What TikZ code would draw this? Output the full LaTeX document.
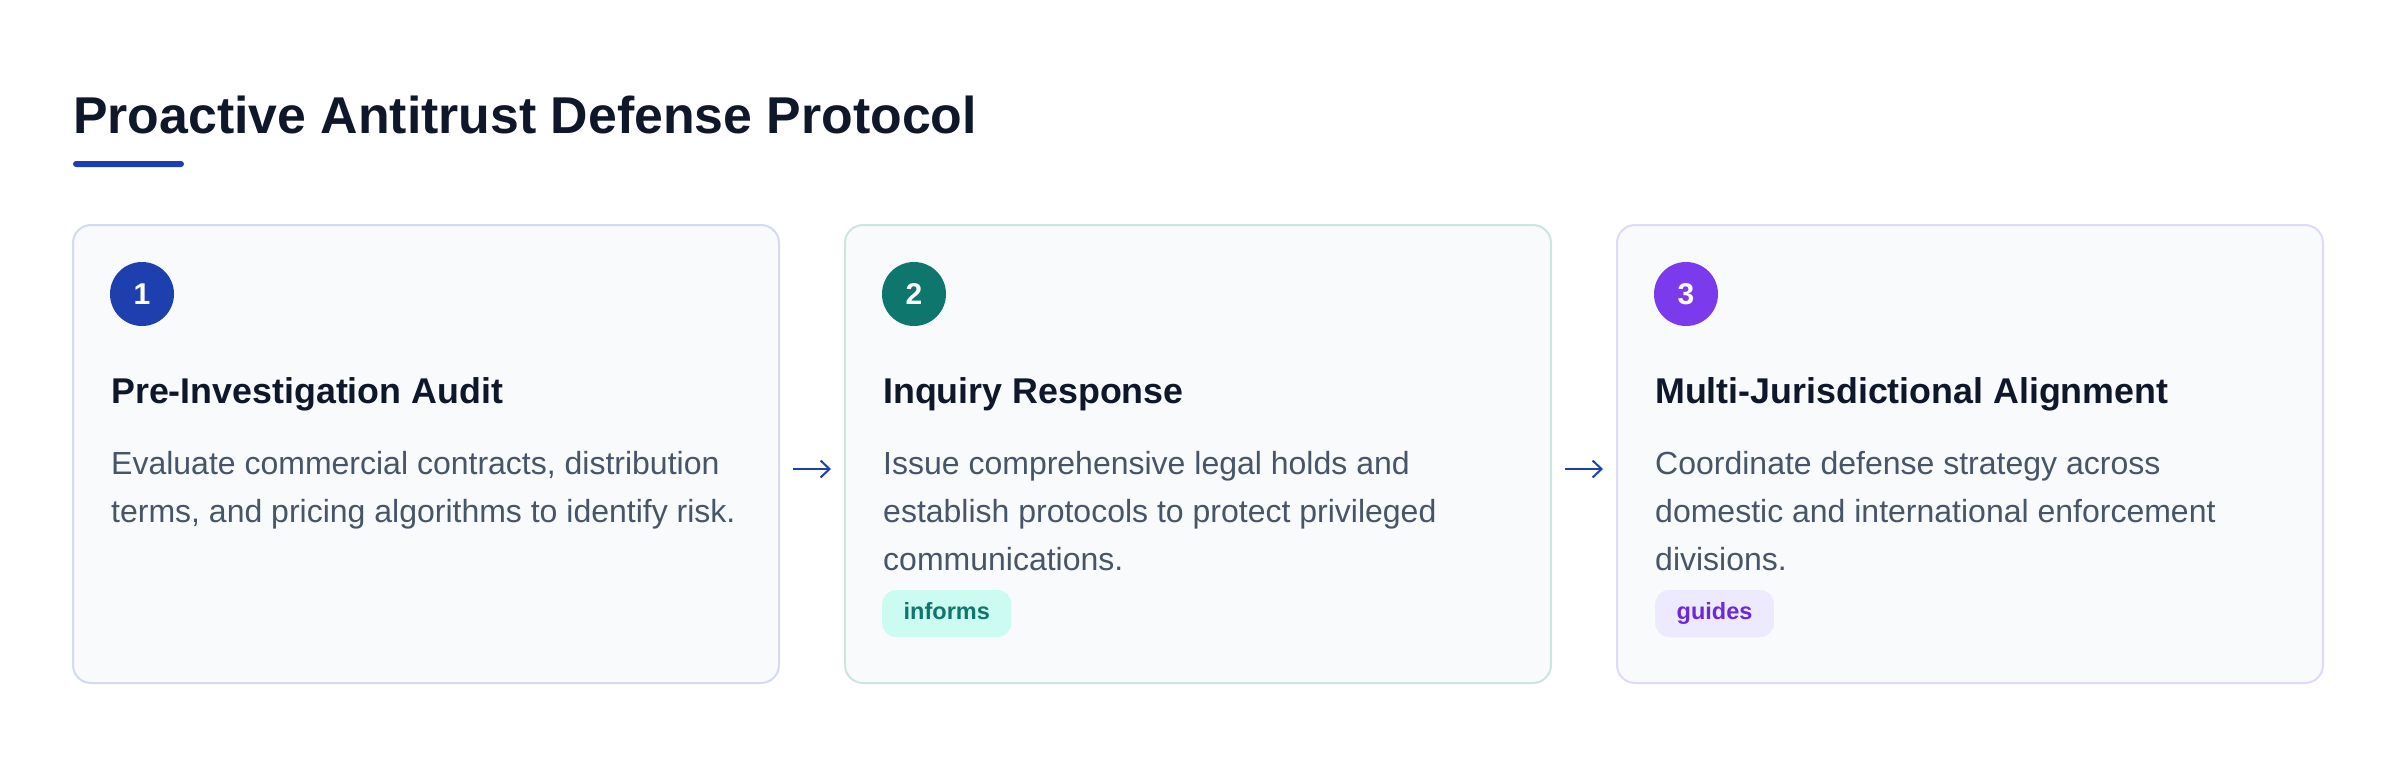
\documentclass[tikz,border=0pt]{standalone}
\usepackage{fontspec}
\setmainfont{Liberation Sans}
\usetikzlibrary{positioning,arrows.meta}

\definecolor{titleink}{HTML}{0F172A}
\definecolor{bodyink}{HTML}{475569}
\definecolor{accentblue}{HTML}{1E40AF}
\definecolor{accentteal}{HTML}{0F766E}
\definecolor{accentviolet}{HTML}{7C3AED}
\definecolor{cardfill}{HTML}{F8FAFC}
\definecolor{edgeblue}{HTML}{D3DAF2}
\definecolor{edgeteal}{HTML}{CCE5DF}
\definecolor{edgeviolet}{HTML}{E0D9FB}
\definecolor{tagteal}{HTML}{CCFBF1}
\definecolor{tagviolet}{HTML}{EDE9FE}
\definecolor{tagvioletink}{HTML}{6D28D9}

\begin{document}
\begin{tikzpicture}[x=1pt,y=-1pt]

  \tikzset{
    card/.style={
      draw,
      fill=cardfill,
      line width=2pt,
      rounded corners=18pt,
      minimum width=706pt,
      minimum height=458pt,
      inner sep=0pt
    },
    stepnum/.style={
      circle,
      minimum size=64pt,
      inner sep=0pt,
      text=white,
      font=\bfseries\fontsize{30}{30}\selectfont
    },
    heading/.style={
      anchor=base west,
      inner sep=0pt,
      text=titleink,
      font=\bfseries\fontsize{35.8}{35.8}\selectfont
    },
    body/.style={
      anchor=north west,
      inner sep=0pt,
      align=left,
      text=bodyink,
      font=\fontsize{32}{48}\selectfont
    },
    tag/.style={
      anchor=west,
      rounded corners=14pt,
      minimum height=47pt,
      inner xsep=21.5pt,
      inner ysep=0pt,
      text height=17pt,
      text depth=6pt,
      font=\bfseries\fontsize{23.5}{23.5}\selectfont
    },
    flow/.style={
      -{Straight Barb[length=9pt,width=17pt]},
      accentblue,
      line width=2pt,
      shorten <=13pt,
      shorten >=13pt
    }
  }

  \useasboundingbox (0,0) rectangle (2400,756);

  \node[anchor=base west, inner sep=0pt, text=titleink,
        font=\bfseries\fontsize{51.8}{51.8}\selectfont] (title) at (73,133)
        {Proactive Antitrust Defense Protocol};
  \node[fill=accentblue, rounded corners=3pt, minimum width=111pt,
        minimum height=6pt, inner sep=0pt] (rule) at (128.5,164) {};

  \node[card, draw=edgeblue] (c1) at (426,454) {};
  \node[card, draw=edgeteal] (c2) at (1198,454) {};
  \node[card, draw=edgeviolet] (c3) at (1970,454) {};

  \node[stepnum, fill=accentblue] (n1) at (142,294) {1};
  \node[stepnum, fill=accentteal] (n2) at (914,294) {2};
  \node[stepnum, fill=accentviolet] (n3) at (1686,294) {3};

  \node[heading] (h1) at (111,403) {Pre-Investigation Audit};
  \node[heading] (h2) at (883,403) {Inquiry Response};
  \node[heading] (h3) at (1655,403) {Multi-Jurisdictional Alignment};

  \node[body] (b1) at (111,451)
    {Evaluate commercial contracts, distribution\\terms, and pricing algorithms to identify risk.};
  \node[body] (b2) at (883,451)
    {Issue comprehensive legal holds and\\establish protocols to protect privileged\\communications.};
  \node[body] (b3) at (1655,451)
    {Coordinate defense strategy across\\domestic and international enforcement\\divisions.};

  \node[tag, fill=tagteal, text=accentteal] (t2) at (882,613.5) {informs};
  \node[tag, fill=tagviolet, text=tagvioletink] (t3) at (1655,613.5) {guides};

  \draw[flow] ([yshift=-15pt]c1.east) -- ([yshift=-15pt]c2.west);
  \draw[flow] ([yshift=-15pt]c2.east) -- ([yshift=-15pt]c3.west);

\end{tikzpicture}
\end{document}
